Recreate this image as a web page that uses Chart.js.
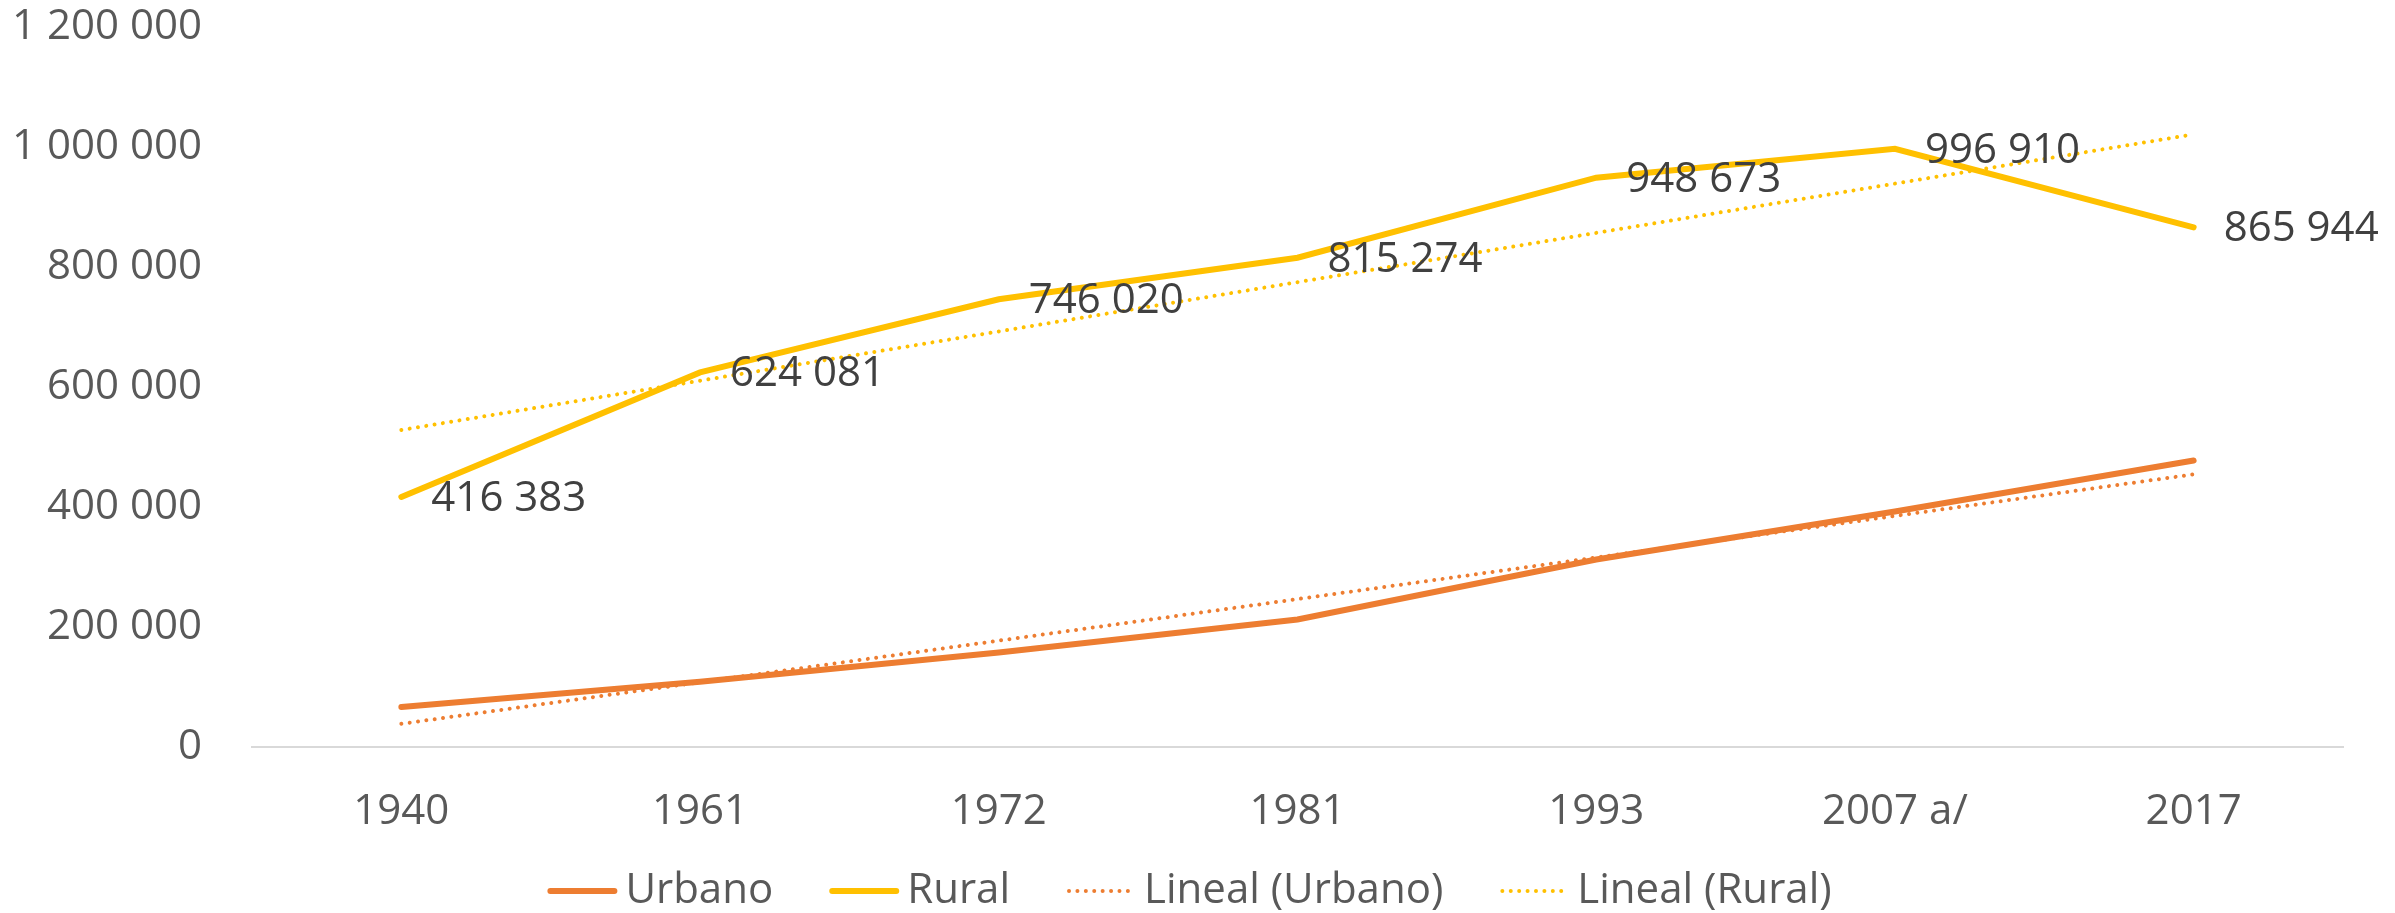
<!DOCTYPE html>
<html>
<head>
<meta charset="utf-8">
<script src="https://cdn.jsdelivr.net/npm/chart.js@4.4.1/dist/chart.umd.min.js"></script>
<style>
  html, body { margin: 0; padding: 0; background: #fff; }
  #wrap { width: 2395px; height: 913px; }
</style>
</head>
<body>
<div id="wrap"><canvas id="chart" width="2395" height="913"></canvas></div>
<script>
// Datos
const years = ['1940', '1961', '1972', '1981', '1993', '2007 a/', '2017'];
const urbano = [66000, 108000, 157000, 212000, 312000, 392000, 477000];
const rural = [416383, 624081, 746020, 815274, 948673, 996910, 865944];
// Líneas de tendencia: solo extremos, el resto se une con spanGaps
const linealUrbano = [38000, null, null, null, null, null, 454000];
const linealRural = [528000, null, null, null, null, null, 1021000];
const yTicks = [0, 200000, 400000, 600000, 800000, 1000000, 1200000];

const ORANGE = '#ED7D31';
const GOLD = '#FFC000';
const FONT = "'Open Sans', sans-serif";
const FSIZE = 42;

function fmt(v) {
    return String(v).replace(/\B(?=(\d{3})+(?!\d))/g, ' ');
}

// Etiquetas de datos a la derecha de cada punto (serie Rural)
const dataLabels = {
    id: 'dataLabels',
    afterDatasetsDraw(chart) {
        const ctx = chart.ctx;
        const meta = chart.getDatasetMeta(1);
        ctx.save();
        ctx.font = FSIZE + 'px ' + FONT;
        ctx.fillStyle = '#404040';
        ctx.textAlign = 'left';
        ctx.textBaseline = 'middle';
        meta.data.forEach((pt, i) => {
            ctx.fillText(fmt(rural[i]), pt.x + 30, pt.y + 2);
        });
        ctx.restore();
    }
};

// Leyenda propia abajo (línea corta + texto), con los estilos de cada serie
const bottomLegend = {
    id: 'bottomLegend',
    afterDraw(chart) {
        const ctx = chart.ctx;
        const sets = chart.data.datasets;
        const lineLen = 70, gap = 8, spacing = 56;
        const y = 891;
        ctx.save();
        ctx.font = FSIZE + 'px ' + FONT;
        const widths = sets.map(d => ctx.measureText(d.label).width);
        let total = 0;
        widths.forEach(w => total += lineLen + gap + w);
        total += spacing * (sets.length - 1);
        let x = chart.width / 2 - total / 2 - 8;
        sets.forEach((d, i) => {
            ctx.strokeStyle = d.borderColor;
            ctx.lineWidth = d.borderWidth;
            ctx.lineCap = 'round';
            ctx.setLineDash(d.borderDash || []);
            ctx.beginPath();
            ctx.moveTo(x + 3, y);
            ctx.lineTo(x + lineLen - 3, y);
            ctx.stroke();
            ctx.setLineDash([]);
            ctx.fillStyle = '#595959';
            ctx.textAlign = 'left';
            ctx.textBaseline = 'middle';
            ctx.fillText(d.label, x + lineLen + gap, y);
            x += lineLen + gap + widths[i] + spacing;
        });
        ctx.restore();
    }
};

new Chart(document.getElementById('chart').getContext('2d'), {
    type: 'line',
    data: {
        labels: years,
        datasets: [
            {
                label: 'Urbano',
                data: urbano,
                borderColor: ORANGE,
                backgroundColor: ORANGE,
                borderWidth: 6,
                borderCapStyle: 'round',
                pointRadius: 0,
                tension: 0
            },
            {
                label: 'Rural',
                data: rural,
                borderColor: GOLD,
                backgroundColor: GOLD,
                borderWidth: 6,
                borderCapStyle: 'round',
                pointRadius: 0,
                tension: 0
            },
            {
                label: 'Lineal (Urbano)',
                data: linealUrbano,
                borderColor: ORANGE,
                backgroundColor: ORANGE,
                borderWidth: 4,
                borderDash: [0.01, 8.4],
                borderCapStyle: 'round',
                pointRadius: 0,
                spanGaps: true
            },
            {
                label: 'Lineal (Rural)',
                data: linealRural,
                borderColor: GOLD,
                backgroundColor: GOLD,
                borderWidth: 4,
                borderDash: [0.01, 8.4],
                borderCapStyle: 'round',
                pointRadius: 0,
                spanGaps: true
            }
        ]
    },
    options: {
        responsive: false,
        animation: false,
        layout: { padding: { top: 27, right: 52, left: 8, bottom: 36 } },
        plugins: {
            legend: { display: false },
            tooltip: { enabled: false }
        },
        scales: {
            x: {
                offset: true,
                grid: { display: false, drawTicks: false },
                border: { display: true, color: '#D9D9D9', width: 2 },
                ticks: {
                    color: '#595959',
                    padding: 40,
                    font: { family: FONT, size: FSIZE }
                }
            },
            y: {
                min: 0,
                max: 1200000,
                afterFit(scale) { scale.width = 244; },
                afterBuildTicks(scale) { scale.ticks = yTicks.map(v => ({ value: v })); },
                grid: { display: true, drawOnChartArea: false, drawTicks: true, tickLength: 50, color: 'rgba(0,0,0,0)' },
                border: { display: false },
                ticks: {
                    color: '#595959',
                    padding: 0,
                    font: { family: FONT, size: FSIZE },
                    callback: v => fmt(v)
                }
            }
        }
    },
    plugins: [dataLabels, bottomLegend]
});
</script>
</body>
</html>
